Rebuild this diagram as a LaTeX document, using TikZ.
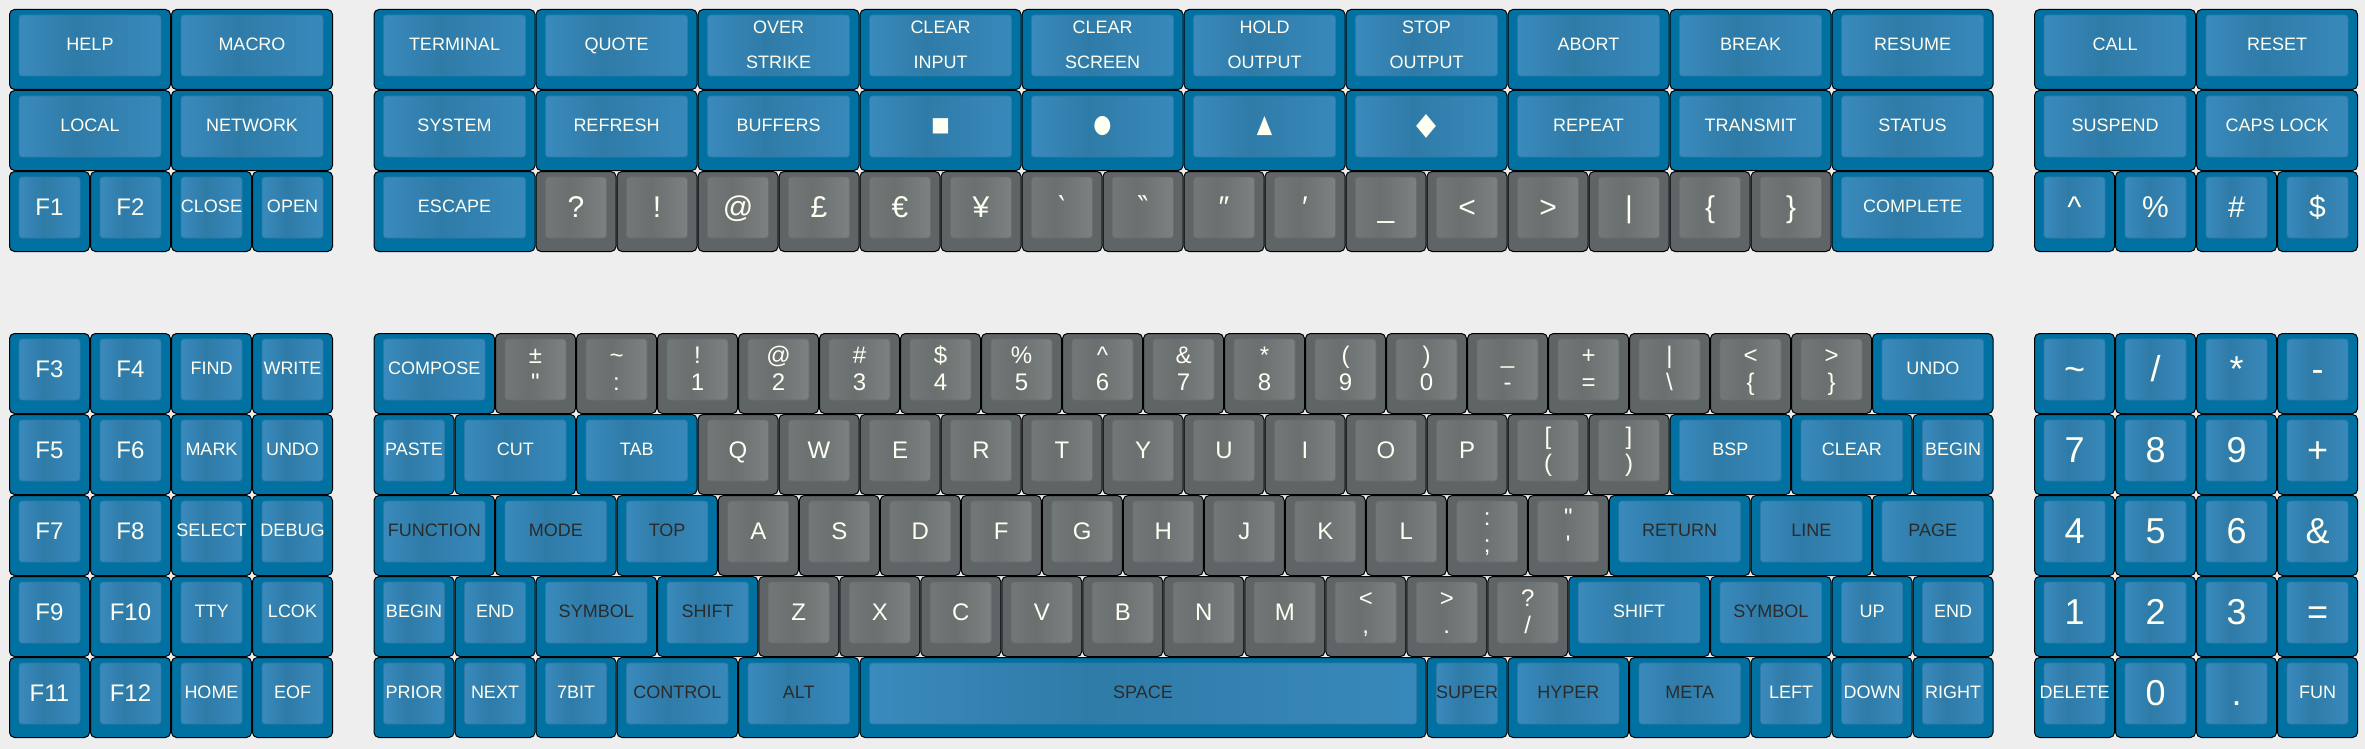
\documentclass[tikz,border=0pt]{standalone}
\usepackage{fontspec}
\newfontfamily\kf{Liberation Sans}
\newfontfamily\symf{DejaVu Sans}
\definecolor{bg}{HTML}{EEEEEE}
\definecolor{bOut}{HTML}{0071A1}
\definecolor{bL}{HTML}{3A8ABD}
\definecolor{bD}{HTML}{2F7BA8}
\definecolor{bR}{HTML}{3889BB}
\definecolor{bEdge}{HTML}{2E79A6}
\definecolor{gOut}{HTML}{5F6467}
\definecolor{gL}{HTML}{727777}
\definecolor{gD}{HTML}{6A6F6F}
\definecolor{gR}{HTML}{7C8282}
\definecolor{gEdge}{HTML}{686D6E}
\definecolor{tw}{HTML}{FFFFF2}
\definecolor{td}{HTML}{2B2B2B}
\pgfdeclarehorizontalshading{faceblue}{100bp}{color(0bp)=(bL); color(25bp)=(bL); color(45bp)=(bD); color(75bp)=(bR); color(100bp)=(bR)}
\pgfdeclarehorizontalshading{facegray}{100bp}{color(0bp)=(gL); color(25bp)=(gL); color(45bp)=(gD); color(75bp)=(gR); color(100bp)=(gR)}
\tikzset{
  keyout/.style={draw=black, line width=1pt, rounded corners=5pt},
  keyin/.style={rounded corners=3pt, line width=0.8pt},
  lbl/.style={inner sep=0pt, outer sep=0pt, font=\kf}
}
\newcount\kbn
\pgfkeys{/kb/.is family,/kb,
  face/.is choice,
  face/blue/.code={\def\kbO{bOut}\def\kbS{faceblue}\def\kbE{bEdge}},
  face/gray/.code={\def\kbO{gOut}\def\kbS{facegray}\def\kbE{gEdge}},
  fs/.store in=\kbfs,
  tc/.store in=\kbtc,
  ba/.store in=\kbba,
  bb/.store in=\kbbb}
\newcommand\kbshape[3]{%
  \pgfmathsetmacro\xa{9+81*(#1)}%
  \pgfmathsetmacro\ya{9+81*(#2)}%
  \pgfmathsetmacro\xb{\xa+81*(#3)}%
  \pgfmathsetmacro\yb{\ya+81}%
  \pgfmathsetmacro\xm{(\xa+\xb)/2}%
  \draw[keyout, fill=\kbO] (\xa+0.5,\ya+0.5) rectangle (\xb-0.5,\yb-0.5);
  \shadedraw[shading=\kbS, draw=\kbE, keyin] (\xa+10,\ya+6) rectangle (\xb-10,\yb-14);
}
% single-line key
\newcommand\K[5][]{%
  \pgfkeys{/kb,face=blue,fs=18,tc=tw,#1}%
  \kbshape{#2}{#3}{#4}%
  \global\advance\kbn by 1
  \setbox0\hbox{\kf\fontsize{\kbfs}{\kbfs}\selectfont #5}%
  \pgfmathsetmacro\kbcw{\xb-\xa-27}%
  \pgfmathsetmacro\kbbase{\ya+35.5+0.358*\kbfs}%
  \ifdim\wd0>\kbcw pt
    \node[lbl, text=\kbtc, anchor=base west, font=\kf\fontsize{\kbfs}{\kbfs}\selectfont] (k\the\kbn) at (\xa+13.4,\kbbase) {#5};
  \else
    \node[lbl, text=\kbtc, anchor=base, font=\kf\fontsize{\kbfs}{\kbfs}\selectfont] (k\the\kbn) at (\xm,\kbbase) {#5};
  \fi
}
% two-line key
\newcommand\KK[6][]{%
  \pgfkeys{/kb,face=gray,fs=24,tc=tw,ba=30.4,bb=57.6,#1}%
  \kbshape{#2}{#3}{#4}%
  \global\advance\kbn by 1
  \node[lbl, text=\kbtc, anchor=base, font=\kf\fontsize{\kbfs}{\kbfs}\selectfont] (k\the\kbn a) at (\xm,\ya+\kbba) {#5};
  \node[lbl, text=\kbtc, anchor=base, font=\kf\fontsize{\kbfs}{\kbfs}\selectfont] (k\the\kbn b) at (\xm,\ya+\kbbb) {#6};
}
% symbol key (2u blue): col,row,fs,scale opts,symbol
\newcommand\KS[5]{%
  \pgfkeys{/kb,face=blue}%
  \kbshape{#1}{#2}{2}%
  \global\advance\kbn by 1
  \node[lbl, text=tw, anchor=center, font=\symf\fontsize{#3}{#3}\selectfont, #4] (k\the\kbn) at (\xm,\ya+36.5) {#5};
}
\newcommand\G[3]{\K[face=gray,fs=24]{#1}{#2}{1}{#3}}
\newcommand\GS[3]{\K[face=gray,fs=30]{#1}{#2}{1}{#3}}
\newcommand\GG[4]{\KK{#1}{#2}{1}{#3}{#4}}
\newcommand\TT[4]{\KK[face=blue,fs=18,ba=24.3,bb=59.7]{#1}{#2}{2}{#3}{#4}}
\newcommand\F[3]{\K[fs=24]{#1}{#2}{1}{#3}}
\newcommand\N[3]{\K[fs=36]{#1}{#2}{1}{#3}}
\begin{document}
\begin{tikzpicture}[x=1pt,y=-1pt]
\fill[bg] (0,0) rectangle (2365,749);
% ---------- left top ----------
\K{0}{0}{2}{HELP} \K{2}{0}{2}{MACRO}
\K{0}{1}{2}{LOCAL} \K{2}{1}{2}{NETWORK}
\F{0}{2}{F1} \F{1}{2}{F2} \K{2}{2}{1}{CLOSE} \K{3}{2}{1}{OPEN}
% ---------- main top ----------
\K{4.5}{0}{2}{TERMINAL} \K{6.5}{0}{2}{QUOTE}
\TT{8.5}{0}{OVER}{STRIKE} \TT{10.5}{0}{CLEAR}{INPUT} \TT{12.5}{0}{CLEAR}{SCREEN}
\TT{14.5}{0}{HOLD}{OUTPUT} \TT{16.5}{0}{STOP}{OUTPUT}
\K{18.5}{0}{2}{ABORT} \K{20.5}{0}{2}{BREAK} \K{22.5}{0}{2}{RESUME}
\K{4.5}{1}{2}{SYSTEM} \K{6.5}{1}{2}{REFRESH} \K{8.5}{1}{2}{BUFFERS}
\KS{10.5}{1}{20}{}{■} \KS{12.5}{1}{25}{xscale=0.83}{●} \KS{14.5}{1}{20}{yscale=1.25}{▲} \KS{16.5}{1}{26}{yscale=1.2}{◆}
\K{18.5}{1}{2}{REPEAT} \K{20.5}{1}{2}{TRANSMIT} \K{22.5}{1}{2}{STATUS}
\K{4.5}{2}{2}{ESCAPE}
\GS{6.5}{2}{?} \GS{7.5}{2}{!} \GS{8.5}{2}{@} \GS{9.5}{2}{£} \GS{10.5}{2}{€} \GS{11.5}{2}{¥}
\GS{12.5}{2}{\symf ‵} \GS{13.5}{2}{\symf ‶} \GS{14.5}{2}{″} \GS{15.5}{2}{′} \GS{16.5}{2}{\_}
\GS{17.5}{2}{<} \GS{18.5}{2}{>} \GS{19.5}{2}{|} \GS{20.5}{2}{\{} \GS{21.5}{2}{\}}
\K{22.5}{2}{2}{COMPLETE}
% ---------- right top ----------
\K{25}{0}{2}{CALL} \K{27}{0}{2}{RESET}
\K{25}{1}{2}{SUSPEND} \K{27}{1}{2}{CAPS LOCK}
\K[fs=30]{25}{2}{1}{\textasciicircum} \K[fs=30]{26}{2}{1}{\%} \K[fs=30]{27}{2}{1}{\#} \K[fs=30]{28}{2}{1}{\$}
% ---------- left bottom ----------
\F{0}{4}{F3} \F{1}{4}{F4} \K{2}{4}{1}{FIND} \K{3}{4}{1}{WRITE}
\F{0}{5}{F5} \F{1}{5}{F6} \K{2}{5}{1}{MARK} \K{3}{5}{1}{UNDO}
\F{0}{6}{F7} \F{1}{6}{F8} \K{2}{6}{1}{SELECT} \K{3}{6}{1}{DEBUG}
\F{0}{7}{F9} \F{1}{7}{F10} \K{2}{7}{1}{TTY} \K{3}{7}{1}{LCOK}
\F{0}{8}{F11} \F{1}{8}{F12} \K{2}{8}{1}{HOME} \K{3}{8}{1}{EOF}
% ---------- main bottom ----------
\K{4.5}{4}{1.5}{COMPOSE}
\GG{6}{4}{±}{\symbol{"22}} \GG{7}{4}{\textasciitilde}{:} \GG{8}{4}{!}{1} \GG{9}{4}{@}{2}
\GG{10}{4}{\#}{3} \GG{11}{4}{\$}{4} \GG{12}{4}{\%}{5} \GG{13}{4}{\textasciicircum}{6}
\GG{14}{4}{\&}{7} \GG{15}{4}{*}{8} \GG{16}{4}{(}{9} \GG{17}{4}{)}{0}
\GG{18}{4}{\_}{-} \GG{19}{4}{+}{=} \GG{20}{4}{|}{\textbackslash} \GG{21}{4}{<}{\{} \GG{22}{4}{>}{\}}
\K{23}{4}{1.5}{UNDO}
%
\K{4.5}{5}{1}{PASTE} \K{5.5}{5}{1.5}{CUT} \K{7}{5}{1.5}{TAB}
\G{8.5}{5}{Q} \G{9.5}{5}{W} \G{10.5}{5}{E} \G{11.5}{5}{R} \G{12.5}{5}{T}
\G{13.5}{5}{Y} \G{14.5}{5}{U} \G{15.5}{5}{I} \G{16.5}{5}{O} \G{17.5}{5}{P}
\GG{18.5}{5}{[}{(} \GG{19.5}{5}{]}{)}
\K{20.5}{5}{1.5}{BSP} \K{22}{5}{1.5}{CLEAR} \K{23.5}{5}{1}{BEGIN}
%
\K[tc=td]{4.5}{6}{1.5}{FUNCTION} \K[tc=td]{6}{6}{1.5}{MODE} \K[tc=td]{7.5}{6}{1.25}{TOP}
\G{8.75}{6}{A} \G{9.75}{6}{S} \G{10.75}{6}{D} \G{11.75}{6}{F} \G{12.75}{6}{G}
\G{13.75}{6}{H} \G{14.75}{6}{J} \G{15.75}{6}{K} \G{16.75}{6}{L}
\GG{17.75}{6}{:}{;} \GG{18.75}{6}{\symbol{"22}}{\symbol{"27}}
\K[tc=td]{19.75}{6}{1.75}{RETURN} \K[tc=td]{21.5}{6}{1.5}{LINE} \K[tc=td]{23}{6}{1.5}{PAGE}
%
\K{4.5}{7}{1}{BEGIN} \K{5.5}{7}{1}{END} \K[tc=td]{6.5}{7}{1.5}{SYMBOL} \K[tc=td]{8}{7}{1.25}{SHIFT}
\G{9.25}{7}{Z} \G{10.25}{7}{X} \G{11.25}{7}{C} \G{12.25}{7}{V} \G{13.25}{7}{B}
\G{14.25}{7}{N} \G{15.25}{7}{M}
\GG{16.25}{7}{<}{,} \GG{17.25}{7}{>}{.} \GG{18.25}{7}{?}{/}
\K{19.25}{7}{1.75}{SHIFT} \K[tc=td]{21}{7}{1.5}{SYMBOL} \K{22.5}{7}{1}{UP} \K{23.5}{7}{1}{END}
%
\K{4.5}{8}{1}{PRIOR} \K{5.5}{8}{1}{NEXT} \K{6.5}{8}{1}{7BIT}
\K[tc=td]{7.5}{8}{1.5}{CONTROL} \K[tc=td]{9}{8}{1.5}{ALT} \K[tc=td]{10.5}{8}{7}{SPACE}
\K[tc=td]{17.5}{8}{1}{SUPER} \K[tc=td]{18.5}{8}{1.5}{HYPER} \K[tc=td]{20}{8}{1.5}{META}
\K{21.5}{8}{1}{LEFT} \K{22.5}{8}{1}{DOWN} \K{23.5}{8}{1}{RIGHT}
% ---------- numpad ----------
\N{25}{4}{\textasciitilde} \N{26}{4}{/} \N{27}{4}{*} \N{28}{4}{-}
\N{25}{5}{7} \N{26}{5}{8} \N{27}{5}{9} \N{28}{5}{+}
\N{25}{6}{4} \N{26}{6}{5} \N{27}{6}{6} \N{28}{6}{\&}
\N{25}{7}{1} \N{26}{7}{2} \N{27}{7}{3} \N{28}{7}{=}
\K{25}{8}{1}{DELETE} \N{26}{8}{0} \N{27}{8}{.} \K{28}{8}{1}{FUN}
\end{tikzpicture}
\end{document}
